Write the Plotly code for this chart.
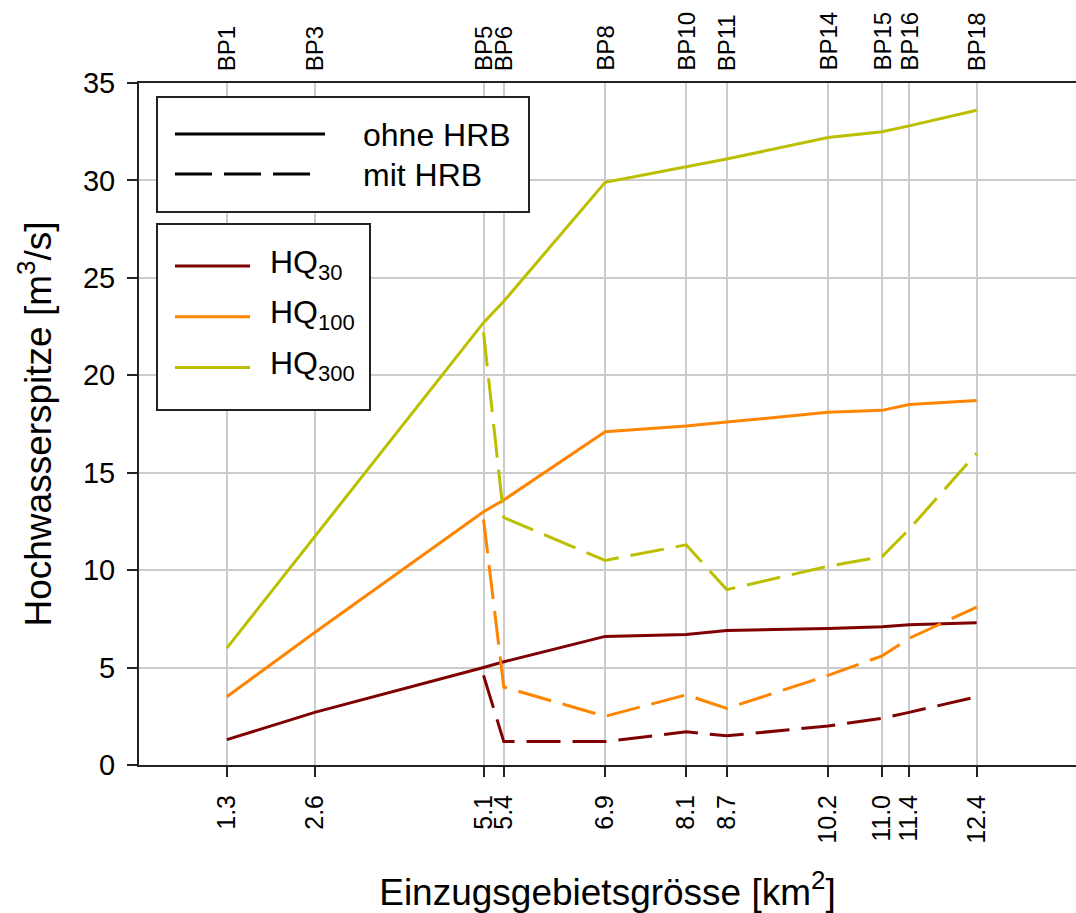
import plotly.graph_objects as go

# Catchment area at each gauging point [km2] and point names
area_km2 = [1.3, 2.6, 5.1, 5.4, 6.9, 8.1, 8.7, 10.2, 11.0, 11.4, 12.4]
points = ["BP1", "BP3", "BP5", "BP6", "BP8", "BP10", "BP11", "BP14", "BP15", "BP16", "BP18"]

# Peak discharge [m3/s] without retention basin (ohne HRB)
hq30_ohne = [1.3, 2.7, 5.0, 5.3, 6.6, 6.7, 6.9, 7.0, 7.1, 7.2, 7.3]
hq100_ohne = [3.5, 6.8, 13.0, 13.6, 17.1, 17.4, 17.6, 18.1, 18.2, 18.5, 18.7]
hq300_ohne = [6.0, 11.7, 22.7, 23.8, 29.9, 30.7, 31.1, 32.2, 32.5, 32.8, 33.6]

# Peak discharge [m3/s] with retention basin (mit HRB), from BP5 downstream
hq30_mit = [None, None, 4.6, 1.2, 1.2, 1.7, 1.5, 2.0, 2.4, 2.7, 3.5]
hq100_mit = [None, None, 12.6, 4.0, 2.5, 3.6, 2.9, 4.6, 5.6, 6.5, 8.1]
hq300_mit = [None, None, 22.2, 12.7, 10.5, 11.3, 9.0, 10.2, 10.7, 12.1, 16.0]

series_base = ["HQ", "HQ", "HQ"]
series_sub = ["30", "100", "300"]
series_colors = ["#7f0000", "#ff8400", "#bcbf00"]
ohne = [hq30_ohne, hq100_ohne, hq300_ohne]
mit = [hq30_mit, hq100_mit, hq300_mit]

FONT = "Liberation Sans, Arial, sans-serif"
W, H = 1076, 913
ML, MR, MT, MB = 139, 0, 83, 148
DASH_DATA = "34px,12px"
DASH_KEY = "37px,12px"

fig = go.Figure()

for base, sub, color, y_o, y_m in zip(series_base, series_sub, series_colors, ohne, mit):
    name = f"{base}{sub}"
    fig.add_trace(go.Scatter(x=area_km2, y=y_o, mode="lines", name=f"{name} ohne HRB",
                             line=dict(color=color, width=3), showlegend=False))
    fig.add_trace(go.Scatter(x=area_km2, y=y_m, mode="lines", name=f"{name} mit HRB",
                             line=dict(color=color, width=3, dash=DASH_DATA),
                             showlegend=False))

plot_w = W - ML - MR
plot_h = H - MT - MB


def px(xp):
    return (xp - ML) / plot_w


def py(yp):
    return (H - MB - yp) / plot_h


shapes = []
annotations = []

# gauging point names above the plot, one per catchment area
for xv, name in zip(area_km2, points):
    annotations.append(dict(text=name, xref="x", yref="paper", x=xv, y=1,
                            yshift=10, xanchor="center", yanchor="bottom",
                            textangle=-90, showarrow=False,
                            font=dict(family=FONT, size=24, color="black")))

# key box: line styles
shapes.append(dict(type="rect", xref="paper", yref="paper", layer="above",
                   x0=px(157), x1=px(529), y0=py(212), y1=py(97),
                   line=dict(color="#222", width=2), fillcolor="white"))
shapes.append(dict(type="line", xref="paper", yref="paper", layer="above",
                   x0=px(175), x1=px(325), y0=py(134), y1=py(134),
                   line=dict(color="black", width=3)))
shapes.append(dict(type="line", xref="paper", yref="paper", layer="above",
                   x0=px(175), x1=px(311), y0=py(174), y1=py(174),
                   line=dict(color="black", width=3, dash=DASH_KEY)))
for label, yp in [("ohne HRB", 135), ("mit HRB", 175)]:
    annotations.append(dict(text=label, xref="paper", yref="paper",
                            x=px(361), y=py(yp), xanchor="left", yanchor="middle",
                            showarrow=False, font=dict(family=FONT, size=32, color="black")))

# key box: return periods
shapes.append(dict(type="rect", xref="paper", yref="paper", layer="above",
                   x0=px(157), x1=px(370), y0=py(410), y1=py(224),
                   line=dict(color="#222", width=2), fillcolor="white"))
for i, (base, sub, color) in enumerate(zip(series_base, series_sub, series_colors)):
    yl = 266 + i * 50.7
    shapes.append(dict(type="line", xref="paper", yref="paper", layer="above",
                       x0=px(175), x1=px(250), y0=py(yl), y1=py(yl),
                       line=dict(color=color, width=3)))
    label = f"{base}<sub><span style='font-size:22px'>{sub}</span></sub>"
    annotations.append(dict(text=label, xref="paper", yref="paper",
                            x=px(268), y=py(yl - 2), xanchor="left", yanchor="middle",
                            showarrow=False, font=dict(family=FONT, size=32, color="black")))

grid = "#cccccc"
x_range = [0, 13.87]

fig.update_layout(
    width=W, height=H,
    margin=dict(l=ML, r=MR, t=MT, b=MB, pad=0),
    paper_bgcolor="white", plot_bgcolor="white",
    font=dict(family=FONT, color="black"),
    showlegend=False,
    shapes=shapes,
    annotations=annotations,
    xaxis=dict(
        range=x_range, tickmode="array", tickvals=area_km2,
        ticktext=[f"{v:.1f}" for v in area_km2], tickangle=-90,
        ticks="outside", ticklen=10, tickwidth=2, tickcolor="#222",
        ticklabelstandoff=8,
        tickfont=dict(family=FONT, size=25, color="black"),
        showline=True, mirror=True, linecolor="#222", linewidth=2,
        showgrid=True, gridcolor=grid, gridwidth=2, zeroline=False,
        title=dict(text="Einzugsgebietsgrösse [km<sup>2</sup>]", standoff=36,
                   font=dict(family=FONT, size=37, color="black")),
    ),
    yaxis=dict(
        range=[0, 35], tickmode="array", tickvals=[0, 5, 10, 15, 20, 25, 30, 35],
        ticks="outside", ticklen=10, tickwidth=2, tickcolor="#222",
        ticklabelstandoff=6,
        tickfont=dict(family=FONT, size=29, color="black"),
        showline=True, linecolor="#222", linewidth=2,
        showgrid=True, gridcolor=grid, gridwidth=2, zeroline=False,
        title=dict(text="Hochwasserspitze [m<sup>3</sup>/s]", standoff=20,
                   font=dict(family=FONT, size=37, color="black")),
    ),
)

fig.write_html("out.html")
